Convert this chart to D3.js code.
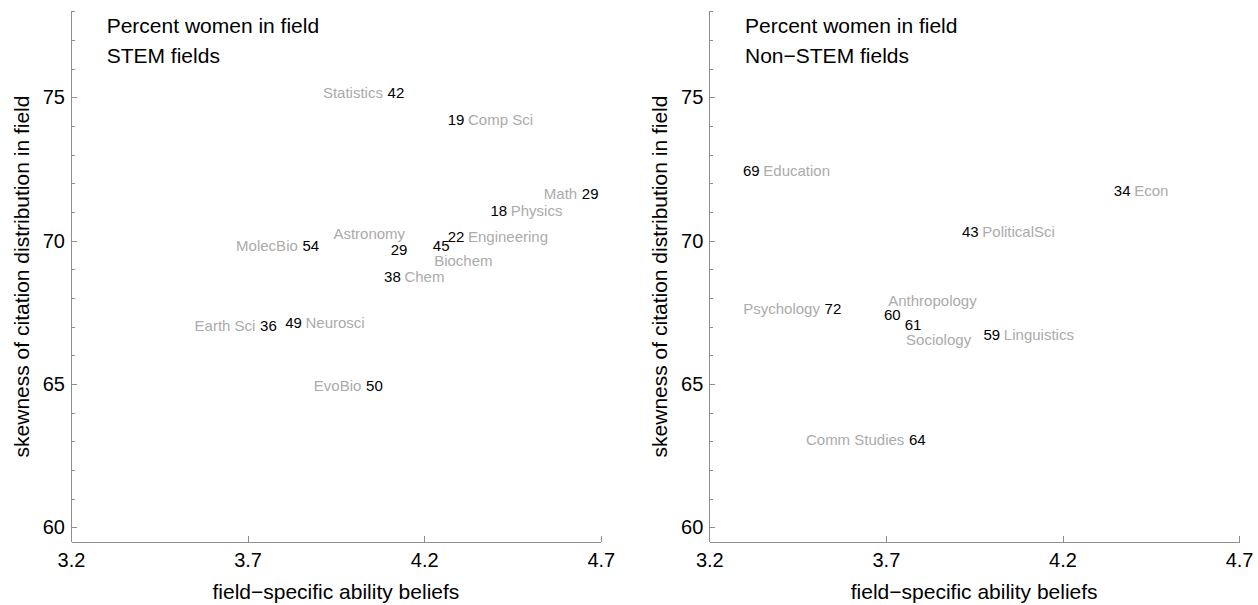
<!DOCTYPE html>
<html>
<head>
<meta charset="utf-8">
<script src="https://cdn.jsdelivr.net/npm/d3@7"></script>
<style>
  html, body { margin: 0; padding: 0; background: #fff; }
  svg { display: block; font-family: "Liberation Sans", Arial, sans-serif; }
  .axis path, .axis line { stroke: #8e8e8e; stroke-width: 1; shape-rendering: crispEdges; }
  .axis text { fill: #000; font-size: 20px; font-family: "Liberation Sans", Arial, sans-serif; }
</style>
</head>
<body>
<svg id="chart" width="1258" height="605"></svg>
<script>
// STEM fields: ability beliefs (x), citation skewness (y), percent women (label)
const stemFields  = ["Statistics", "Comp Sci", "Math", "Physics", "Engineering", "Biochem",
                     "Astronomy", "Chem", "MolecBio", "Earth Sci", "Neurosci", "EvoBio"];
const stemBeliefs = [4.12, 4.29, 4.67, 4.411, 4.29, 4.248, 4.129, 4.11, 3.879, 3.759, 3.83, 4.059];
const stemSkew    = [75.15, 74.21, 71.63, 71.04, 70.14, 69.83, 69.70, 68.74, 69.81, 67.02, 67.12, 64.93];
const stemWomen   = [42, 19, 29, 18, 22, 45, 29, 38, 54, 36, 49, 50];
const stemSide    = ["left", "right", "left", "right", "right", "below",
                     "aboveLeft", "right", "left", "left", "right", "left"];

// Non-STEM fields
const nonStemFields  = ["Education", "Econ", "PoliticalSci", "Psychology", "Anthropology",
                        "Sociology", "Linguistics", "Comm Studies"];
const nonStemBeliefs = [3.319, 4.369, 3.939, 3.55, 3.718, 3.777, 4.0, 3.789];
const nonStemSkew    = [72.43, 71.73, 70.30, 67.62, 67.41, 67.06, 66.71, 63.05];
const nonStemWomen   = [69, 34, 43, 72, 60, 61, 59, 64];
const nonStemSide    = ["right", "right", "right", "left", "above", "below", "right", "left"];

// Axis ticks
const xTicks = [3.2, 3.7, 4.2, 4.7];
const yTicks = [60, 65, 70, 75];
const yMinorTicks = [60, 61, 62, 63, 64, 65, 66, 67, 68, 69, 70, 71, 72, 73, 74, 75, 76, 77, 78];
const xDomain = [3.2, 4.7];
const yDomain = [59.5, 78];

const panels = [
  { left: 71,    subtitle: "STEM fields",
    fields: stemFields, x: stemBeliefs, y: stemSkew, women: stemWomen, side: stemSide },
  { left: 709.3, subtitle: "Non\u2212STEM fields",
    fields: nonStemFields, x: nonStemBeliefs, y: nonStemSkew, women: nonStemWomen, side: nonStemSide }
];

const svg = d3.select("#chart");
const plotW = 529.8, plotTop = 11.4, plotBottom = 541.6;
const fmt = d3.format(".1f");

// label placement relative to the number drawn at the point
const place = {
  left:      { dx: -13, dy: 0,   anchor: "end" },
  right:     { dx: 12,  dy: 0,   anchor: "start" },
  below:     { dx: -7,  dy: 15,  anchor: "start" },
  above:     { dx: -4,  dy: -14, anchor: "start" },
  aboveLeft: { dx: 6,   dy: -16, anchor: "end" }
};

panels.forEach(p => {
  const x = d3.scaleLinear().domain(xDomain).range([p.left, p.left + plotW]);
  const y = d3.scaleLinear().domain(yDomain).range([plotBottom, plotTop]);

  // minor y ticks
  svg.append("g").attr("class", "axis")
    .attr("transform", `translate(${p.left},0)`)
    .call(d3.axisLeft(y).tickValues(yMinorTicks.filter(v => v % 5 !== 0))
      .tickSizeInner(-3.5).tickSizeOuter(0).tickFormat(""))
    .select(".domain").remove();

  // major y axis
  svg.append("g").attr("class", "axis")
    .attr("transform", `translate(${p.left},0)`)
    .call(d3.axisLeft(y).tickValues(yTicks).tickSizeInner(-6).tickSizeOuter(0).tickPadding(6));

  // x axis
  svg.append("g").attr("class", "axis")
    .attr("transform", `translate(0,${plotBottom})`)
    .call(d3.axisBottom(x).tickValues(xTicks).tickSizeInner(-6).tickSizeOuter(0)
      .tickPadding(11).tickFormat(fmt));

  // axis titles
  svg.append("text")
    .attr("x", (x.range()[0] + x.range()[1]) / 2)
    .attr("y", 599)
    .attr("text-anchor", "middle")
    .style("font-size", "21px")
    .text("field\u2212specific ability beliefs");

  svg.append("text")
    .attr("transform", `translate(${p.left - 42.5},${(plotTop + plotBottom) / 2}) rotate(-90)`)
    .attr("text-anchor", "middle")
    .style("font-size", "21px")
    .text("skewness of citation distribution in field");

  // panel heading
  svg.append("text").attr("x", p.left + 35.7).attr("y", 33.3)
    .style("font-size", "21px").text("Percent women in field");
  svg.append("text").attr("x", p.left + 35.7).attr("y", 62.7)
    .style("font-size", "21px").text(p.subtitle);

  const rows = p.fields.map((f, i) => ({ name: f, bx: p.x[i], sy: p.y[i], w: p.women[i], side: p.side[i] }));

  const g = svg.append("g");
  // percent women, drawn at the data point
  g.selectAll("text.num").data(rows).join("text")
    .attr("class", "num")
    .attr("x", d => x(d.bx))
    .attr("y", d => y(d.sy))
    .attr("dy", "0.35em")
    .attr("text-anchor", "middle")
    .style("font-size", "15px")
    .style("fill", "#000")
    .text(d => d.w);

  // field names
  g.selectAll("text.name").data(rows).join("text")
    .attr("class", "name")
    .attr("x", d => x(d.bx) + place[d.side].dx)
    .attr("y", d => y(d.sy) + place[d.side].dy)
    .attr("dy", "0.35em")
    .attr("text-anchor", d => place[d.side].anchor)
    .style("font-size", "15px")
    .style("fill", "#ababab")
    .text(d => d.name);
});
</script>
</body>
</html>
